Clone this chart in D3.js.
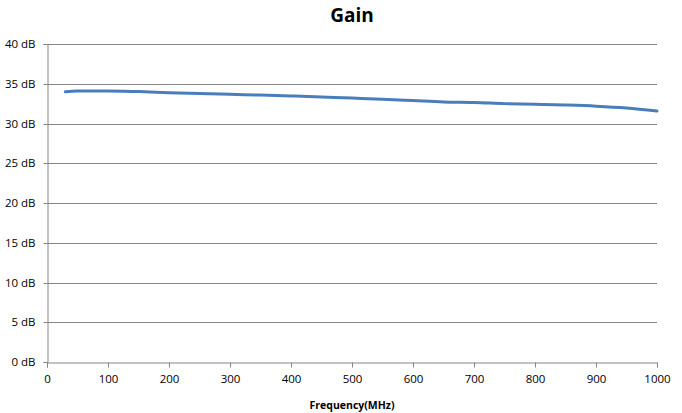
<!DOCTYPE html>
<html>
<head>
<meta charset="utf-8">
<script src="https://cdn.jsdelivr.net/npm/d3@7"></script>
<style>
  html, body { margin: 0; padding: 0; background: #fff; }
  svg { display: block; }
  text { font-family: "Open Sans", "Noto Sans", sans-serif; fill: #000; }
</style>
</head>
<body>
<svg id="chart" width="682" height="413"></svg>
<script>
// Data
const freqMHz = [30, 50, 100, 150, 200, 250, 300, 350, 400, 450, 500, 550, 600, 650, 700, 750, 800, 850, 900, 950, 1000];
const gainDb  = [33.98, 34.08, 34.1, 34.01, 33.88, 33.77, 33.67, 33.58, 33.46, 33.33, 33.2, 33.06, 32.88, 32.7, 32.64, 32.5, 32.42, 32.32, 32.18, 31.95, 31.58];
const yTicks = [0, 5, 10, 15, 20, 25, 30, 35, 40];
const xTicks = [0, 100, 200, 300, 400, 500, 600, 700, 800, 900, 1000];
const titleText = "Gain";
const xTitle = "Frequency(MHz)";

const svg = d3.select("#chart");
const m = { left: 47, right: 657, top: 44, bottom: 362 };
const x = d3.scaleLinear().domain([0, 1000]).range([m.left, m.right]);
const y = d3.scaleLinear().domain([0, 40]).range([m.bottom, m.top]);
const gridColor = "#868686";

// gridlines
svg.append("g").selectAll("line").data(yTicks.filter(d => d > 0)).join("line")
  .attr("x1", m.left).attr("x2", m.right)
  .attr("y1", d => Math.round(y(d)) + 0.5).attr("y2", d => Math.round(y(d)) + 0.5)
  .attr("stroke", gridColor).attr("stroke-width", 1);

// y axis
const yAxis = d3.axisLeft(y).tickValues(yTicks).tickSize(4).tickPadding(8).tickFormat(d => d + " dB");
const gy = svg.append("g").attr("transform", `translate(${m.left + 0.5},0)`).call(yAxis);
gy.select(".domain").attr("stroke", gridColor);
gy.selectAll(".tick line").attr("stroke", gridColor);
gy.selectAll(".tick text").style("font-size", "11.5px").attr("fill", "#000");
gy.selectAll(".tick").attr("transform", d => `translate(0,${Math.round(y(d)) + 0.5})`);

// x axis
const xAxis = d3.axisBottom(x).tickValues(xTicks).tickSize(5).tickPadding(7).tickFormat(d3.format("d"));
const gx = svg.append("g").attr("transform", `translate(0,${m.bottom + 0.5})`).call(xAxis);
gx.select(".domain").attr("stroke", gridColor);
gx.selectAll(".tick line").attr("stroke", gridColor);
gx.selectAll(".tick text").style("font-size", "11.5px").attr("fill", "#000");

// line
const line = d3.line().x((d, i) => x(freqMHz[i])).y(d => y(d)).curve(d3.curveMonotoneX);
svg.append("path").datum(gainDb)
  .attr("d", line)
  .attr("fill", "none")
  .attr("stroke", "#4a7ebb")
  .attr("stroke-width", 3)
  .attr("stroke-linecap", "round")
  .attr("stroke-linejoin", "round");

// titles
svg.append("text").attr("x", (m.left + m.right) / 2).attr("y", 22)
  .attr("text-anchor", "middle").style("font-size", "19px").style("font-weight", "bold").text(titleText);
svg.append("text").attr("x", (m.left + m.right) / 2).attr("y", 409)
  .attr("text-anchor", "middle").style("font-size", "10.5px").style("font-weight", "bold").text(xTitle);
</script>
</body>
</html>
